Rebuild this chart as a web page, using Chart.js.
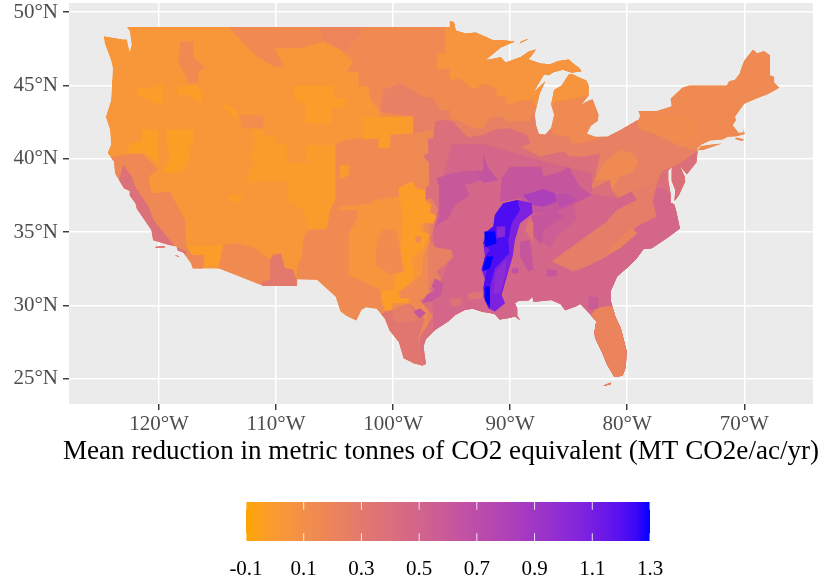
<!DOCTYPE html>
<html>
<head>
<meta charset="utf-8">
<script src="https://cdn.jsdelivr.net/npm/chart.js@4"></script>
<style>
  html, body { margin: 0; background: #fff; }
  #mapBox { position: absolute; left: 0; top: 0; width: 826px; height: 469px; }
  #barBox { position: absolute; left: 0; top: 490px; width: 826px; height: 92px; }
</style>
</head>
<body>
<div id="mapBox"><canvas id="mapChart"></canvas></div>
<div id="barBox"><canvas id="barChart"></canvas></div>
<script>
// axis labels
const lonTicks = [-120, -110, -100, -90, -80, -70];
const latTicks = [25, 30, 35, 40, 45, 50];
const legendTicks = [-0.1, 0.1, 0.3, 0.5, 0.7, 0.9, 1.1, 1.3];
const axisTitle = "Mean reduction in metric tonnes of CO2 equivalent (MT CO2e/ac/yr)";

// land outline, lon/lat pairs
const mainland = [[-122.76,49],[-95.15,49],[-95.15,49.38],[-94.8,49.33],[-94.65,48.75],[-93.8,48.55],[-92.95,48.62],[-92,48.3],[-91.4,48.07],[-90.75,48.1],[-89.6,48],[-90.8,47.6],[-92.1,46.75],[-91.2,46.87],[-90.8,46.95],[-90.4,46.57],[-89.1,46.95],[-88.45,47.3],[-87.8,47.47],[-88.2,47],[-88.45,46.8],[-87.4,46.5],[-86.6,46.45],[-85.9,46.68],[-85,46.77],[-84.55,46.47],[-84.1,46.2],[-83.9,45.97],[-84.75,45.87],[-85.5,46.08],[-86.3,45.9],[-86.7,45.7],[-87.1,45.75],[-87.6,45.1],[-88,44.55],[-87.0,45.3],[-87.5,44.4],[-87.9,43],[-87.8,42.3],[-87.55,41.7],[-87,41.65],[-86.5,42.1],[-86.25,43],[-86.5,43.7],[-86.25,44.7],[-85.6,45],[-85,45.75],[-84.75,45.78],[-83.5,45.35],[-83.3,45],[-83.3,44.3],[-83.9,43.7],[-83.4,43.95],[-82.95,44.07],[-82.45,43],[-82.5,42.6],[-83.1,42.25],[-83.45,41.72],[-82.7,41.5],[-81.7,41.5],[-80.5,42],[-79,42.7],[-78.9,42.95],[-79.05,43.27],[-77.5,43.27],[-76.5,43.5],[-76.2,43.6],[-76.3,44.1],[-75.3,44.85],[-74.7,45],[-71.5,45],[-71.3,45.3],[-70.8,45.4],[-70.4,45.8],[-70.25,46.2],[-70,46.7],[-69.25,47.45],[-68.9,47.2],[-68.3,47.35],[-67.8,47.07],[-67.8,45.7],[-67.45,45.6],[-67.45,45.2],[-67,44.85],[-68,44.4],[-69,44.1],[-70,43.75],[-70.6,43.1],[-70.8,42.85],[-70.7,42.65],[-71,42.3],[-70.65,41.95],[-70.5,41.78],[-70.05,41.8],[-70.1,42.05],[-69.95,41.7],[-70.65,41.55],[-71.2,41.5],[-71.4,41.5],[-71.85,41.32],[-72.9,41.25],[-73.65,40.98],[-74,40.7],[-74,40.45],[-74.1,39.75],[-74.9,38.95],[-75.5,39.5],[-75.1,38.8],[-75.05,38.45],[-75.6,37.5],[-75.95,37.15],[-75.9,37.9],[-76.2,38.5],[-76.2,39.3],[-76.1,39.5],[-76.5,39.2],[-76.5,38.5],[-76.4,38.1],[-76.3,37.6],[-76.3,37],[-76,36.9],[-75.85,36.55],[-75.5,35.25],[-76.5,34.65],[-77.9,33.9],[-78.6,33.85],[-79.2,33.2],[-79.95,32.6],[-80.85,32],[-81.4,31],[-81.4,30.3],[-81,29.2],[-80.55,28.45],[-80.05,26.9],[-80.12,25.8],[-80.4,25.2],[-81.1,25.13],[-81.75,26],[-82.1,26.7],[-82.75,27.8],[-82.8,28.2],[-82.65,28.9],[-83.4,29.6],[-84,30.1],[-84.35,29.95],[-85.3,29.68],[-85.7,30.1],[-86.5,30.38],[-87.5,30.28],[-88,30.25],[-88.1,30.6],[-88.4,30.35],[-89.3,30.3],[-89.6,30.15],[-89.4,29.8],[-89.4,29.3],[-89.15,29],[-89.6,29.25],[-90.1,29.15],[-90.9,29.05],[-91.3,29.4],[-91.8,29.5],[-92.3,29.55],[-93.2,29.78],[-93.85,29.7],[-94.7,29.35],[-95.3,28.9],[-96.4,28.35],[-97.2,27.7],[-97.4,27.2],[-97.2,26],[-97.5,25.9],[-98.2,26.05],[-99.1,26.4],[-99.5,27.5],[-100.3,28.3],[-100.7,29.1],[-101.4,29.77],[-102.3,29.88],[-102.7,29.7],[-103.15,28.98],[-104,29.3],[-104.5,29.6],[-104.9,30.6],[-106.5,31.75],[-108.2,31.78],[-108.2,31.33],[-111.07,31.33],[-114.8,32.5],[-117.12,32.53],[-117.25,32.85],[-117.9,33.6],[-118.4,33.75],[-118.5,34.03],[-119.2,34.15],[-120.5,34.45],[-120.65,35.15],[-121.9,36.6],[-122,36.95],[-122.5,37.5],[-122.5,37.8],[-123,38],[-123.75,39],[-123.85,39.8],[-124.4,40.4],[-124.1,41],[-124.2,42],[-124.55,42.85],[-124.1,44],[-123.95,46.2],[-124.1,46.7],[-124.65,47.9],[-124.73,48.38],[-123.1,48.15],[-122.75,48.15],[-122.5,47.3],[-122.35,47.8],[-122.5,48.7]];
const longIsland = [[-74,40.58],[-73.5,40.6],[-71.9,41.05],[-72.6,41],[-73.7,40.88]];
const isleRoyale = [[-89.2,47.87],[-88.45,48.15],[-88.6,48.15],[-89.1,47.98]];
const santaCruz = [[-120.3,34],[-119.5,34.05],[-119.5,33.95],[-120.3,33.92]];
const catalina = [[-118.6,33.45],[-118.3,33.35],[-118.35,33.3],[-118.6,33.4]];
const keys = [[-82,24.55],[-81.4,24.75],[-81.4,24.62],[-82,24.5]];
const nantucket = [[-70.75,41.45],[-70.45,41.42],[-70,41.3],[-70.2,41.22],[-70.75,41.33]];
const landParts = [mainland, longIsland, isleRoyale, santaCruz, catalina, keys, nantucket];

// mean reduction zones, painted in this order over the land
const east = [[-114.07,49],[-112.93,48],[-111.65,46.98],[-110.2,46.3],[-109.37,46.3],[-110.08,47.55],[-107.95,47.55],[-105.95,48],[-104.5,47.43],[-103.4,46.64],[-103.95,45.95],[-102.95,45.95],[-102.95,44.93],[-102.1,44.93],[-101.95,44.02],[-101.1,43.23],[-101.1,42.89],[-102.53,42.89],[-102.53,41.41],[-104.1,41.3],[-104.95,40.95],[-104.95,37.2],[-105.38,36.52],[-105.66,35.27],[-106.23,35.15],[-107.23,35.15],[-107.66,34.59],[-107.8,33.34],[-108.23,32.54],[-108.23,31.3],[-108.23,24],[-66,24],[-66,49.5],[-114.07,49.5]];
const hiLine = [[-106.25,49],[-102.7,49],[-102.83,48.57],[-104.1,47.32],[-104.8,47.66],[-106.1,48.25]];
const idaho = [[-118.2,48],[-117.06,48],[-117.06,46.98],[-116.06,46.18],[-116.63,45.95],[-116.63,45.16],[-117.49,45.16],[-117.77,45.73],[-118.34,46.52]];
const snake = [[-113.07,42.98],[-111.08,42.98],[-111.08,42.09],[-112.93,42.09]];
const calCentral = [[-123.04,40.27],[-121.47,40.39],[-120.05,39.25],[-120.9,38.8],[-120.62,37.66],[-119.05,37.77],[-118.34,36.64],[-117.77,35.84],[-117.69,34.02],[-116.2,33.45],[-116.2,32.54],[-117.34,32.31],[-118.5,33],[-124,36],[-125,40]];
const calCoast = [[-123.33,38.8],[-123.04,39.59],[-122.33,38.8],[-122.04,38.11],[-120.9,36.75],[-120.48,35.84],[-119.34,34.7],[-118.63,34.02],[-117.63,33.68],[-117.77,33.2],[-118,33],[-121,34],[-124,37.5]];
const imperial = [[-117.63,34.02],[-114.5,34.13],[-114.64,32.77],[-116.2,32.65],[-116.06,33.45],[-117.2,33.45]];
const southAz = [[-114.92,32.54],[-114.5,34.13],[-113.35,34.25],[-111.79,33.9],[-110.5,33.11],[-109.94,31.29],[-111.65,31.18],[-115,31]];
const bootheel = [[-110.5,33.11],[-110.28,33.45],[-109.59,33.56],[-109.22,32.54],[-108.57,32.47],[-108.23,31.75],[-108.23,31.06],[-111.22,31.06],[-111.22,31.63],[-110.5,31.75]];
const cascades = [[-121.9,44.82],[-120.48,44.82],[-120.34,45.05],[-119.68,45.05],[-119.62,43.68],[-120.19,43.8],[-121.9,44.36]];
const blueMtn = [[-118.48,44.93],[-116.77,45.05],[-116.2,44.36],[-116.35,43.8],[-117.63,44.36],[-118.48,44.36]];
const snakeSliver = [[-114.92,43.9],[-113.92,43.57],[-113.35,43.23],[-113.35,42.66],[-114.21,43.34]];
const wyoming = [[-108.65,44.98],[-105.09,44.98],[-105.09,44.14],[-104.1,44.14],[-104.1,43.52],[-105.24,43.45],[-105.24,42.43],[-107.51,42.43],[-107.51,43.8],[-108.23,43.91]];
const sandHills = [[-102.67,42.89],[-98.31,42.89],[-98.31,41.75],[-100.25,41.64],[-100.25,40.73],[-101.25,40.73],[-101.25,41.41],[-102.53,41.3]];
const sierra = [[-121.47,41.98],[-120.05,41.98],[-120.05,39.7],[-121.19,40.39],[-122.76,40.39],[-122.47,41.07],[-121.47,41.18]];
const nevada = [[-119.34,41.98],[-117.06,41.98],[-117.06,41.07],[-117.49,40.84],[-117.34,40.16],[-117.91,39.13],[-119.05,39.02],[-119.62,39.13],[-119.05,40.16],[-119.34,40.84]];
const plateau = [[-112.07,41.98],[-111.08,41.98],[-111.08,41.64],[-110.08,41.52],[-110.08,41.07],[-109.08,40.95],[-109.08,39.7],[-107.37,39.7],[-107.51,40.95],[-104.95,40.95],[-104.95,37.2],[-105.38,36.52],[-105.66,35.27],[-107.23,35.27],[-107.66,36.52],[-108.94,37.09],[-108.94,38.45],[-111.93,38.45],[-112.36,38.23],[-112.5,38.8],[-111.93,39.7],[-112.22,40.39],[-111.79,41.07]];
const utahDot = [[-114.07,37.55],[-112.93,37.55],[-112.93,37.09],[-114.07,37.09]];
const colorado = [[-104.55,39.58],[-103.75,39.58],[-103.75,38.9],[-104.55,38.56]];
const midSalmon = [[-101.1,43.23],[-100.83,44.7],[-99.4,45.16],[-97.4,44.25],[-96.55,44.14],[-96,43.34],[-95.15,43.34],[-95.15,42.77],[-94.29,42.55],[-93.15,42.09],[-92.3,42.09],[-91.73,42.84],[-90.59,42.89],[-90.3,42.55],[-88.31,42.55],[-88.08,43.11],[-87,43],[-86.31,41.64],[-84.89,41.52],[-84.75,41.07],[-83.75,41.07],[-82.61,41.41],[-79.19,42.66],[-78.91,42.09],[-77.77,41.75],[-75.49,40.84],[-74.06,40.61],[-73,40],[-73,24],[-97,24],[-97,34],[-96.57,41.97],[-98.26,41.75],[-98.26,42.89]];
const northWoods = [[-96.27,47.2],[-96.27,46.07],[-95.15,46.18],[-95.15,45.39],[-94.29,45.5],[-93.29,44.82],[-92.87,44.82],[-92.3,45.16],[-91.16,44.82],[-91.16,44.25],[-90.3,44.25],[-90.3,43.68],[-88.88,44.02],[-88.02,44.02],[-87.74,43.34],[-86.5,43.5],[-86.17,43.9],[-84.32,44.14],[-83,44.5],[-82.5,47],[-84,49.5],[-95.57,49.5],[-95.57,47.2]];
const panhandle = [[-104.55,36.74],[-101.99,36.93],[-101.56,37.2],[-99.7,37.42],[-98.85,37.88],[-97.2,37.08],[-97.43,35.15],[-96.86,34.47],[-97.43,33.33],[-97.57,32.08],[-98.43,31.52],[-99.56,30.83],[-100.99,30.38],[-101.13,31.06],[-102.84,31.74],[-103.84,32.08],[-103.81,34.93],[-103.1,35.84],[-103.1,36.52],[-104.8,36.52]];
const texasStrip = [[-99.56,37.99],[-98.42,38.45],[-98,37.99],[-97.28,37.88],[-97.2,37.08],[-96.71,36.86],[-96.86,36.4],[-96.29,36.06],[-96.57,35.6],[-97.71,35.6],[-97.71,35.15],[-96.86,34.81],[-97.43,33.9],[-98.43,33.1],[-98.14,32.2],[-98.43,31.63],[-99.56,30.95],[-99.42,30.49],[-98.71,30.49],[-98.62,30.15],[-100,30.15],[-100.13,29.65],[-100.7,29.65],[-100.99,30.38],[-100.99,30.95],[-99.99,31.06],[-99.7,31.97],[-99.4,33.5],[-99.2,36]];
const rollingPlains = [[-100.96,35.15],[-99.83,35.15],[-99.4,33.9],[-99.11,32.31],[-100.25,32.09],[-101.53,32.77],[-101.39,34.25]];
const wichita = [[-98.11,34.7],[-97.63,34.7],[-97.63,34.29],[-98.11,34.29]];
const south = [[-97,41.4],[-96.57,41.4],[-96.41,42.54],[-95.72,42.66],[-94.86,42.55],[-94.01,41.75],[-93.58,41.48],[-92.3,41.64],[-91.44,41.98],[-90.16,42.09],[-88.59,41.64],[-88.25,41.07],[-89.02,40.79],[-87.45,40.16],[-85.46,40.5],[-84.89,40.16],[-83.75,40.16],[-82.32,40.34],[-82.75,38.79],[-83.18,37.88],[-81.47,38.56],[-81.33,37.88],[-80.76,37.31],[-79.62,37.77],[-77.48,38.33],[-77.05,39.13],[-75.49,39.7],[-74.06,40.5],[-72,40.5],[-72,24],[-97.7,24],[-97.71,27.88],[-96.57,29.24],[-97.71,30.38],[-96.71,30.72],[-96.86,31.17],[-95.86,31.74],[-96.29,32.31],[-95.29,32.99],[-94.86,33.22],[-95,33.79],[-96.43,33.97],[-96.8,34.47],[-96.57,35.15],[-96.29,35.83],[-96.15,36.52],[-96.71,37.31],[-97.2,37.2],[-97.2,38.1],[-96.86,38.15],[-96.92,39.7],[-97.43,40.2],[-97,40.38]];
const lowerSouth = [[-95,41],[-92.3,41],[-90,40.5],[-88,40],[-85.5,39.5],[-83,39],[-83,37.6],[-80.76,37.31],[-79.62,37.77],[-77,38],[-75,37],[-75,24],[-96.5,24],[-96.57,29.24],[-96.71,30.72],[-95.86,31.74],[-95.29,32.99],[-94.86,33.3],[-95,33.79],[-96.43,34],[-96.57,35.15],[-96.15,36.52],[-96.06,38],[-95.5,39.5]];
const southTexas = [[-100.7,29.58],[-100.13,29.65],[-98.62,30.15],[-97.85,29.58],[-97.28,29.02],[-97.85,27.77],[-97.28,26.06],[-97.28,25.7],[-100.28,25.83],[-101.7,29.02]];
const hillCountry = [[-100.13,29.65],[-98.62,30.1],[-97.85,29],[-99.9,28.8]];
const piedmont = [[-79.62,37.77],[-77.48,38.33],[-77.48,38.22],[-77.82,37.08],[-77.48,36.06],[-79.19,35.38],[-79.62,35.04],[-81.75,33.34],[-83.46,32.65],[-84.6,32.31],[-86.46,33],[-84.32,34.25],[-81.75,35.72],[-80.9,36.52],[-79.19,37.2]];
const sandhillsGa = [[-81.9,33.34],[-81.04,34.25],[-79.62,35.27],[-79.13,34.93],[-80.6,33.9]];
const florida = [[-82.75,29.7],[-82.32,29.88],[-81.47,29.97],[-80,29.97],[-79.5,24.2],[-83.5,24.2],[-83.5,29]];
const tnBasin = [[-87.74,36.52],[-84.6,37.2],[-84.32,35.84],[-86.03,34.7],[-86.6,33.9],[-87.45,34.47]];
const easternKs = [[-96.29,38.67],[-95,39.02],[-94.15,39.13],[-93.01,39.2],[-92.44,38.56],[-93.87,38.22],[-93.44,37.54],[-94.72,36.86],[-95.29,35.95],[-96.43,35.38],[-96.06,36],[-96.06,38.1]];
const centralMo = [[-93,39.2],[-92.3,39.13],[-92.3,40.27],[-91.87,39.36],[-91.02,38.56],[-92.3,38.33]];
const ohioValley = [[-90.73,38.67],[-90.02,39.47],[-87.31,39.47],[-87.17,38.79],[-85.6,39.13],[-85.03,39.47],[-84.03,38.1],[-83.03,37.54],[-84.46,36.97],[-86.03,36.4],[-88.02,36.29],[-89.16,37.31],[-90.87,37.08]];
const northAl = [[-88.16,36.17],[-86.03,36.4],[-85.46,36.06],[-87.17,35.15],[-87.31,34.13],[-88.16,34.92]];
const westTn = [[-89.16,34.36],[-88.31,34.47],[-88.02,32.43],[-88.45,32.31],[-89.16,33.34]];
const eastTexas = [[-96.43,31.86],[-95.72,31.52],[-95.86,30.72],[-96.71,30.27],[-97.57,30.15],[-97.14,30.72],[-96.43,31.06],[-96.71,31.29]];
const sanMarcos = [[-98.28,29.58],[-97.71,29.81],[-97.2,29.47],[-97.71,29.13]];
const nyPatch = [[-79.05,42.54],[-77.77,42.89],[-75.2,42.89],[-73.92,42.43],[-74.06,41.75],[-75.2,41.07],[-77.77,41.75],[-79.05,42.09]];
const wvPatch = [[-82.75,38.56],[-82.04,39.7],[-80.61,40.61],[-79.47,40.38],[-79.05,39.81],[-79.62,39.02],[-80.61,38.79],[-81.33,37.92],[-81.47,38.56]];
const kentucky = [[-88.88,37.54],[-87.17,37.92],[-86.17,37.65],[-86.03,37.08],[-87.17,36.74],[-88.16,36.86]];
const cumberland = [[-86.17,37.54],[-85.17,37.65],[-84.32,37.2],[-85.74,36.63]];
const tnStrip = [[-88.74,35.15],[-88.31,36.06],[-88.02,35.61],[-88.02,34.25],[-88.45,34.81]];
const eastTxLow = [[-95.15,30.49],[-94.15,30.49],[-94.15,30.04],[-95,29.92]];
const swLa = [[-93.58,30.83],[-92.3,30.95],[-92.3,30.49],[-93.58,30.38]];
const nwFl = [[-83.32,30.6],[-82.47,30.6],[-82.47,29.8],[-83.32,29.7]];
const alDot = [[-86.88,32.43],[-86.03,32.43],[-86.03,31.97],[-86.88,31.97]];
const msDot = [[-89.87,32.54],[-89.3,32.54],[-89.3,32.2],[-89.87,32.2]];
const deltaRing = [[-90.59,36.97],[-89.3,37.2],[-88.17,36.97],[-88.08,36.29],[-89.16,35.61],[-89.59,34.47],[-89.79,33.34],[-90.16,32.31],[-90.73,30.72],[-90.44,30.15],[-91.3,29.59],[-91.87,29.81],[-92.3,30.61],[-92.15,31.75],[-92.44,32.43],[-92.15,33.34],[-92.3,34.25],[-92.01,35.04],[-91.44,35.38],[-91.3,36.18]];
const deltaCore = [[-90.59,36.97],[-89.39,37.2],[-89.16,36.52],[-89.87,35.61],[-90.16,34.47],[-90.07,33.56],[-91.3,32.54],[-91.73,31.29],[-91.73,29.81],[-92.15,30.38],[-92.3,31.18],[-92.01,32.43],[-92.44,32.43],[-92.15,33.34],[-91.73,33.79],[-92.3,34.25],[-92.01,35.04],[-91.44,35.38],[-91.3,36.18]];
const deltaInsetN = [[-91.16,35.38],[-90.44,35.38],[-90.44,34.7],[-91.16,34.59]];
const deltaInsetS = [[-91.3,32.2],[-90.3,33.22],[-90.44,31.97],[-90.87,30.84],[-91.44,30.84]];
const deltaPeakA = [[-92.21,35.04],[-91.3,35.04],[-91.16,34.25],[-92.15,33.97]];
const deltaPeakB = [[-92.3,32.65],[-92.01,33.34],[-91.44,33.34],[-91.73,32.54],[-92.35,32.31]];
const deltaPeakC = [[-92.15,31.29],[-91.73,31.29],[-91.73,29.81],[-92.15,30.38]];

const zoneShapes = [east, hiLine, idaho, snake, calCentral, calCoast, imperial, southAz, bootheel, cascades, blueMtn, snakeSliver, wyoming, sandHills, sierra, nevada, plateau, utahDot, colorado, midSalmon, northWoods, panhandle, texasStrip, rollingPlains, wichita, south, lowerSouth, southTexas, hillCountry, piedmont, sandhillsGa, florida, nyPatch, wvPatch, tnBasin, easternKs, centralMo, ohioValley, northAl, westTn, eastTexas, sanMarcos, kentucky, cumberland, tnStrip, eastTxLow, swLa, nwFl, alDot, msDot, deltaRing, deltaCore, deltaInsetN, deltaInsetS, deltaPeakA, deltaPeakB, deltaPeakC];
const zoneValues = [0.15, 0.19, 0.14, 0.12, 0.16, 0.38, -0.03, 0.14, 0.3, -0.03, -0.03, -0.03, -0.03, -0.02, -0.04, -0.04, -0.02, -0.03, 0, 0.24, 0.05, 0.05, -0.03, 0.13, 0.15, 0.4, 0.48, 0.33, 0.27, 0.27, 0.2, 0.2, 0.13, 0.15, 0.55, 0.6, 0.64, 0.62, 0.62, 0.62, 0.6, 0.62, 0.82, 0.7, 0.34, 0.36, 0.35, 0.58, 0.62, 0.68, 1.08, 1.22, 1.02, 1.0, 1.3, 1.3, 1.3];
const landValue = 0.03;

// ggplot style low-high gradient, orange to blue through Lab
function toLab(c) {
    let rgb = c.map(function (v) {
        v = v / 255;
        return v > 0.04045 ? Math.pow((v + 0.055) / 1.055, 2.4) : v / 12.92;
    });
    let x = (0.4124 * rgb[0] + 0.3576 * rgb[1] + 0.1805 * rgb[2]) / 0.95047;
    let y = 0.2126 * rgb[0] + 0.7152 * rgb[1] + 0.0722 * rgb[2];
    let z = (0.0193 * rgb[0] + 0.1192 * rgb[1] + 0.9505 * rgb[2]) / 1.08883;
    let f = function (t) { return t > 0.008856 ? Math.cbrt(t) : 7.787 * t + 16 / 116; };
    return [116 * f(y) - 16, 500 * (f(x) - f(y)), 200 * (f(y) - f(z))];
}
function fromLab(lab) {
    let fy = (lab[0] + 16) / 116, fx = lab[1] / 500 + fy, fz = fy - lab[2] / 200;
    let g = function (t) { return t * t * t > 0.008856 ? t * t * t : (t - 16 / 116) / 7.787; };
    let x = g(fx) * 0.95047, y = g(fy), z = g(fz) * 1.08883;
    let rgb = [3.2406 * x - 1.5372 * y - 0.4986 * z, -0.9689 * x + 1.8758 * y + 0.0415 * z, 0.0557 * x - 0.204 * y + 1.057 * z];
    return rgb.map(function (v) {
        v = v > 0.0031308 ? 1.055 * Math.pow(v, 1 / 2.4) - 0.055 : 12.92 * v;
        return Math.round(Math.min(1, Math.max(0, v)) * 255);
    });
}
const lowLab = toLab([255, 165, 0]);
const highLab = toLab([0, 0, 255]);
function fillColor(value) {
    let t = Math.min(1, Math.max(0, (value + 0.1) / 1.4));
    let c = fromLab(lowLab.map(function (l, i) { return l + (highLab[i] - l) * t; }));
    return 'rgb(' + c[0] + ',' + c[1] + ',' + c[2] + ')';
}
function shapeDataset(shape, color) {
    return {
        data: shape.map(function (p) { return { x: p[0], y: p[1] }; }),
        backgroundColor: color,
        borderWidth: 0,
        pointRadius: 0,
        fill: 'shape',
        tension: 0
    };
}

let mapData = landParts.map(function (part) { return shapeDataset(part, fillColor(landValue)); });
for (let i = 0; i < zoneShapes.length; i++) {
    mapData.push(shapeDataset(zoneShapes[i], fillColor(zoneValues[i])));
}
// chart.js paints the last dataset first
mapData.reverse();

// grey panel behind the grid, and zones stay inside the coastline
const panelPlugin = {
    id: 'panel',
    beforeDraw: function (chart) {
        let a = chart.chartArea;
        chart.ctx.fillStyle = '#EBEBEB';
        chart.ctx.fillRect(a.left, a.top, a.right - a.left, a.bottom - a.top);
    },
    beforeDatasetsDraw: function (chart) {
        let ctx = chart.ctx;
        ctx.save();
        ctx.beginPath();
        landParts.forEach(function (part) {
            part.forEach(function (p, i) {
                let px = chart.scales.x.getPixelForValue(p[0]);
                let py = chart.scales.y.getPixelForValue(p[1]);
                if (i === 0) ctx.moveTo(px, py); else ctx.lineTo(px, py);
            });
            ctx.closePath();
        });
        ctx.clip();
    },
    afterDatasetsDraw: function (chart) {
        chart.ctx.restore();
    },
    // the scale title gets squeezed to the axis width, the real one is wider
    afterDraw: function (chart) {
        let ctx = chart.ctx;
        let a = chart.chartArea;
        ctx.save();
        ctx.fillStyle = '#000';
        ctx.font = '27.1px "Liberation Serif"';
        ctx.textAlign = 'center';
        ctx.textBaseline = 'middle';
        ctx.fillText(axisTitle, (a.left + a.right) / 2, a.bottom + 48);
        ctx.restore();
    }
};

new Chart(document.getElementById('mapChart').getContext('2d'), {
    type: 'line',
    data: { datasets: mapData },
    plugins: [panelPlugin],
    options: {
        responsive: true,
        maintainAspectRatio: false,
        animation: false,
        events: [],
        layout: { padding: { top: 3, right: 13, left: 0, bottom: 0 } },
        plugins: { legend: { display: false }, tooltip: { enabled: false } },
        scales: {
            x: {
                type: 'linear',
                min: -127.69,
                max: -64.13,
                afterBuildTicks: function (scale) {
                    scale.ticks = lonTicks.map(function (v) { return { value: v }; });
                },
                afterFit: function (scale) {
                    scale.height = 65;
                    scale.paddingLeft = 0;
                    scale.paddingRight = 0;
                },
                grid: { color: '#fff', lineWidth: 1.5, tickColor: '#333', tickWidth: 1.4, tickLength: 6 },
                border: { display: false },
                ticks: {
                    autoSkip: false,
                    maxRotation: 0,
                    padding: 2,
                    color: '#4D4D4D',
                    font: { family: '"Liberation Serif"', size: 21 },
                    callback: function (v) { return Math.abs(v) + '°W'; }
                }
            },
            y: {
                type: 'linear',
                min: 23.28,
                max: 50.63,
                afterBuildTicks: function (scale) {
                    scale.ticks = latTicks.map(function (v) { return { value: v }; });
                },
                afterFit: function (scale) {
                    scale.width = 69;
                    scale.paddingTop = 0;
                    scale.paddingBottom = 0;
                },
                grid: { color: '#fff', lineWidth: 1.5, tickColor: '#333', tickWidth: 1.4, tickLength: 6 },
                border: { display: false },
                ticks: {
                    padding: 5,
                    color: '#4D4D4D',
                    font: { family: '"Liberation Serif"', size: 21 },
                    callback: function (v) { return v + '°N'; }
                }
            }
        }
    }
});

// colour bar legend
let barFill = shapeDataset([[-0.1, 0], [1.3, 0], [1.3, 1], [-0.1, 1]], function (context) {
    let x = context.chart.scales.x;
    if (!x || !isFinite(x.left) || !isFinite(x.right)) return fillColor(0.6);
    let g = context.chart.ctx.createLinearGradient(x.left, 0, x.right, 0);
    for (let s = 0; s <= 28; s++) {
        g.addColorStop(s / 28, fillColor(-0.1 + 1.4 * s / 28));
    }
    return g;
});
let barData = [];
legendTicks.forEach(function (v) {
    [[0, 0.2], [0.8, 1]].forEach(function (span) {
        barData.push({
            data: [{ x: v, y: span[0] }, { x: v, y: span[1] }],
            borderColor: 'rgba(255,255,255,0.85)',
            borderWidth: 1,
            pointRadius: 0
        });
    });
});
barData.push(barFill);

new Chart(document.getElementById('barChart').getContext('2d'), {
    type: 'line',
    data: { datasets: barData },
    options: {
        responsive: true,
        maintainAspectRatio: false,
        animation: false,
        events: [],
        layout: { padding: { top: 12, left: 246, right: 176, bottom: 0 } },
        plugins: { legend: { display: false }, tooltip: { enabled: false } },
        scales: {
            x: {
                type: 'linear',
                min: -0.1,
                max: 1.3,
                afterBuildTicks: function (scale) {
                    scale.ticks = legendTicks.map(function (v) { return { value: v }; });
                },
                afterFit: function (scale) { scale.height = 41; },
                grid: { display: false },
                border: { display: false },
                ticks: {
                    autoSkip: false,
                    maxRotation: 0,
                    padding: 8,
                    color: '#000',
                    font: { family: '"Liberation Serif"', size: 21 },
                    callback: function (v) { return v.toFixed(1); }
                }
            },
            y: { display: false, min: 0, max: 1 }
        }
    }
});
</script>
</body>
</html>
